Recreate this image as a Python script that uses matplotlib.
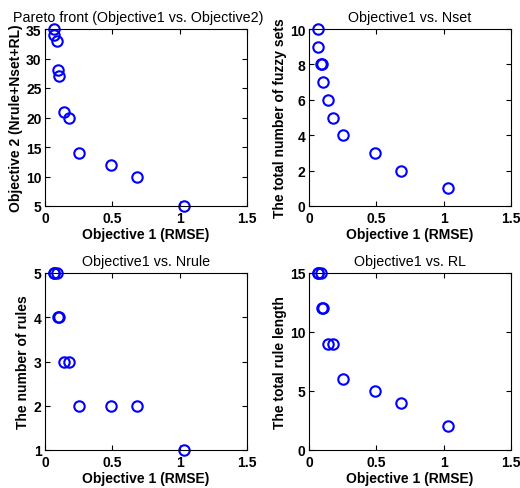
import matplotlib
matplotlib.use("Agg")
import matplotlib.pyplot as plt

# RMSE (objective 1) for each solution on the Pareto front
rmse = [0.07, 0.065, 0.09, 0.095, 0.105, 0.14, 0.18, 0.25, 0.49, 0.68, 1.03]
obj2_x = [0.07, 0.065, 0.09, 0.10, 0.105, 0.14, 0.18, 0.25, 0.49, 0.68, 1.03]
obj2 = [35, 34, 33, 28, 27, 21, 20, 14, 12, 10, 5]
nset = [10, 9, 8, 8, 7, 6, 5, 4, 3, 2, 1]
nrule_x = [0.065, 0.07, 0.09, 0.10, 0.105, 0.14, 0.18, 0.25, 0.49, 0.68, 1.03]
nrule = [5, 5, 5, 4, 4, 3, 3, 2, 2, 2, 1]
rl = [15, 15, 15, 12, 12, 9, 9, 6, 5, 4, 2]

xticks = [0, 0.5, 1, 1.5]
xticklabels = ["0", "0.5", "1", "1.5"]

plt.rcParams['font.family'] = ['Liberation Sans', 'DejaVu Sans']

fig = plt.figure(figsize=(5.2, 4.89), dpi=100)
W, H = 520, 489

def make_ax(x0, y0, x1, y1):
    return fig.add_axes([x0 / W, 1 - y1 / H, (x1 - x0) / W, (y1 - y0) / H])

panels = [
    (make_ax(45, 30, 247, 207), obj2_x, obj2, (5, 35), [5, 10, 15, 20, 25, 30, 35],
     'Pareto front (Objective1 vs. Objective2)', 'Objective 2 (Nrule+Nset+RL)'),
    (make_ax(309, 30, 511, 207), rmse, nset, (0, 10), [0, 2, 4, 6, 8, 10],
     'Objective1 vs. Nset', 'The total number of fuzzy sets'),
    (make_ax(45, 274, 247, 451), nrule_x, nrule, (1, 5), [1, 2, 3, 4, 5],
     'Objective1 vs. Nrule', 'The number of rules'),
    (make_ax(309, 274, 511, 451), nrule_x, rl, (0, 15), [0, 5, 10, 15],
     'Objective1 vs. RL', 'The total rule length'),
]

for i, (ax, xs, ys, ylim, yticks, title, ylabel) in enumerate(panels):
    ax.plot(xs, ys, 'o', mfc='none', mec='#0000ff', mew=1.5, ms=7.5, clip_on=False)
    ax.set_xlim(0, 1.5)
    ax.set_ylim(*ylim)
    ax.set_xticks(xticks)
    ax.set_xticklabels(xticklabels)
    ax.set_yticks(yticks)
    ax.tick_params(direction='in', top=True, right=True, length=3.5, width=0.8,
                   labelsize=10, pad=2.5)
    ax.tick_params(axis='x', pad=3.5)
    for lab in ax.get_xticklabels() + ax.get_yticklabels():
        lab.set_fontweight('bold')
    t = ax.set_title(title, fontsize=10.3, pad=6)
    if i == 0:
        t.set_x(0.46)
    ax.set_xlabel('Objective 1 (RMSE)', fontsize=10, fontweight='bold', labelpad=1.5)
    ax.set_ylabel(ylabel, fontsize=10, fontweight='bold', labelpad=2.5)
    for s in ax.spines.values():
        s.set_linewidth(0.8)

fig.savefig('out.png', dpi=100)
